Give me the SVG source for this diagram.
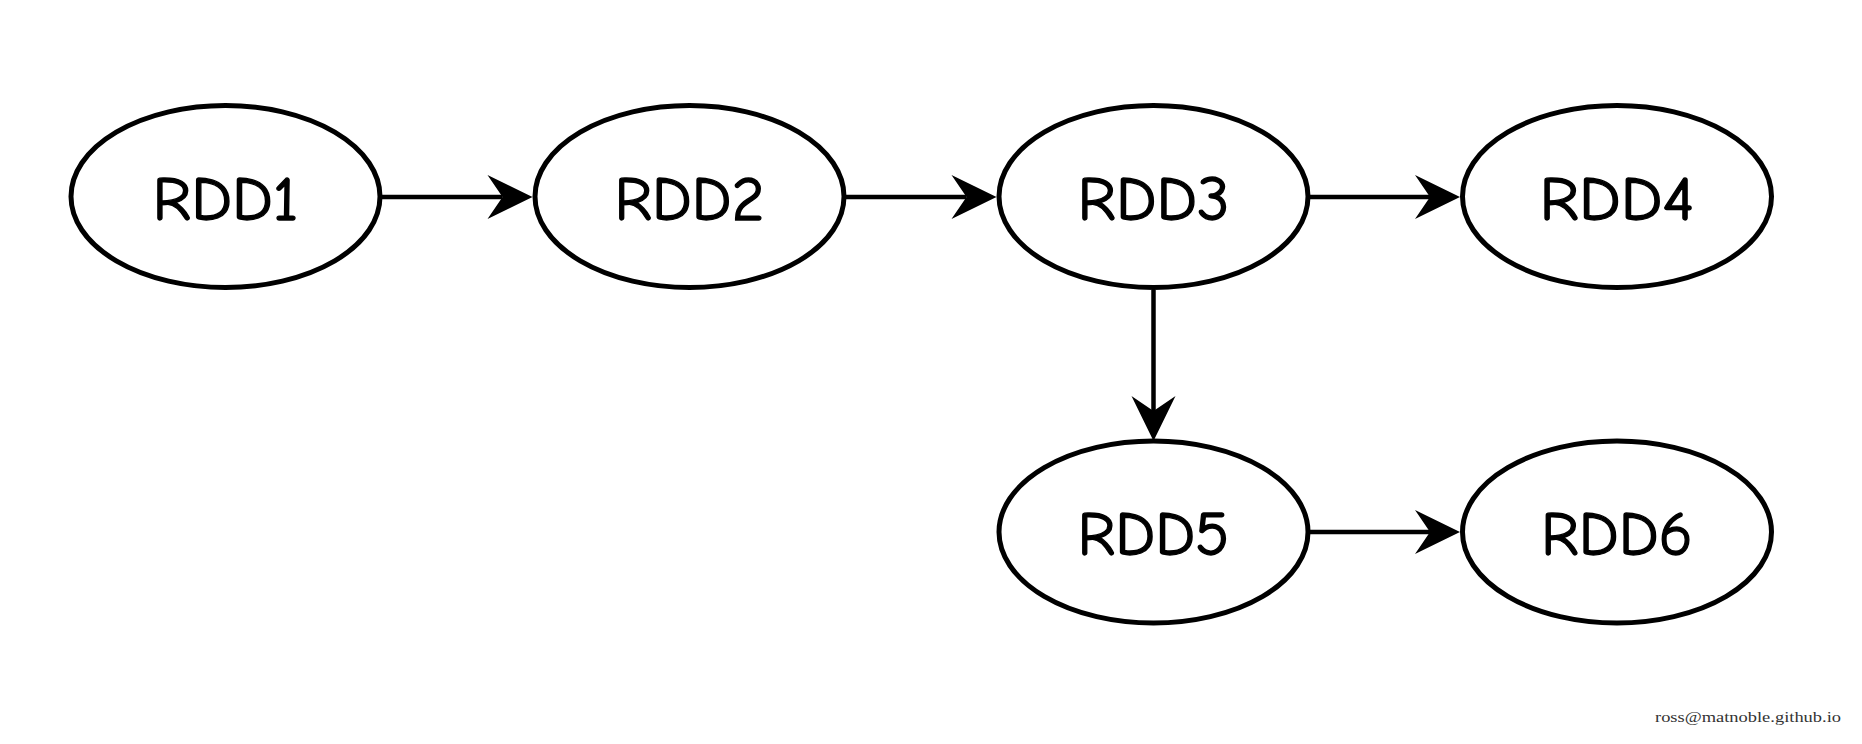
<svg xmlns="http://www.w3.org/2000/svg" width="1862" height="744" viewBox="0 0 1862 744">
<style>
.node ellipse{fill:#fff;stroke:#000;stroke-width:5}
.node text{font-family:"Comic Sans MS","Comic Neue","Liberation Sans",sans-serif;font-size:62px;fill:#000;stroke:#000;stroke-width:1.3;text-anchor:middle}
.edge{stroke:#000;stroke-width:4.5;fill:none;marker-end:url(#arr)}
.foot{font-family:"Liberation Serif",serif;font-size:15px;fill:#333}
</style>
<defs>
<marker id="arr" markerUnits="userSpaceOnUse" markerWidth="50" markerHeight="50" viewBox="-1 -25 50 50" refX="15" refY="0" orient="auto">
<path d="M0,-22 L45,0 L0,22 L15,0 Z" fill="#000"/>
</marker>
</defs>
<rect width="1862" height="744" fill="#fff"/>
<g id="connectors">
<line class="edge" x1="382" y1="197" x2="502.5" y2="197"/>
<line class="edge" x1="846" y1="197" x2="966.5" y2="197"/>
<line class="edge" x1="1310" y1="197" x2="1430" y2="197"/>
<line class="edge" x1="1153.5" y1="290" x2="1153.5" y2="411"/>
<line class="edge" x1="1310" y1="532" x2="1430" y2="532"/>
</g>
<g id="RDD1" class="node"><ellipse cx="225.5" cy="196.5" rx="154.5" ry="91"/><text x="225.5" y="220" textLength="146" lengthAdjust="spacingAndGlyphs">RDD1</text></g>
<g id="RDD2" class="node"><ellipse cx="689.5" cy="196.5" rx="154.5" ry="91"/><text x="689.5" y="220" textLength="150" lengthAdjust="spacingAndGlyphs">RDD2</text></g>
<g id="RDD3" class="node"><ellipse cx="1153.5" cy="196.5" rx="154.5" ry="91"/><text x="1153.5" y="220" textLength="152" lengthAdjust="spacingAndGlyphs">RDD3</text></g>
<g id="RDD4" class="node"><ellipse cx="1617" cy="196.5" rx="154.5" ry="91"/><text x="1617" y="220" textLength="155" lengthAdjust="spacingAndGlyphs">RDD4</text></g>
<g id="RDD5" class="node"><ellipse cx="1153.5" cy="532" rx="154.5" ry="91"/><text x="1153.5" y="555" textLength="152" lengthAdjust="spacingAndGlyphs">RDD5</text></g>
<g id="RDD6" class="node"><ellipse cx="1617" cy="532" rx="154.5" ry="91"/><text x="1617" y="555" textLength="152" lengthAdjust="spacingAndGlyphs">RDD6</text></g>
<text class="foot" x="1655" y="722" textLength="186" lengthAdjust="spacingAndGlyphs">ross@matnoble.github.io</text>
</svg>
